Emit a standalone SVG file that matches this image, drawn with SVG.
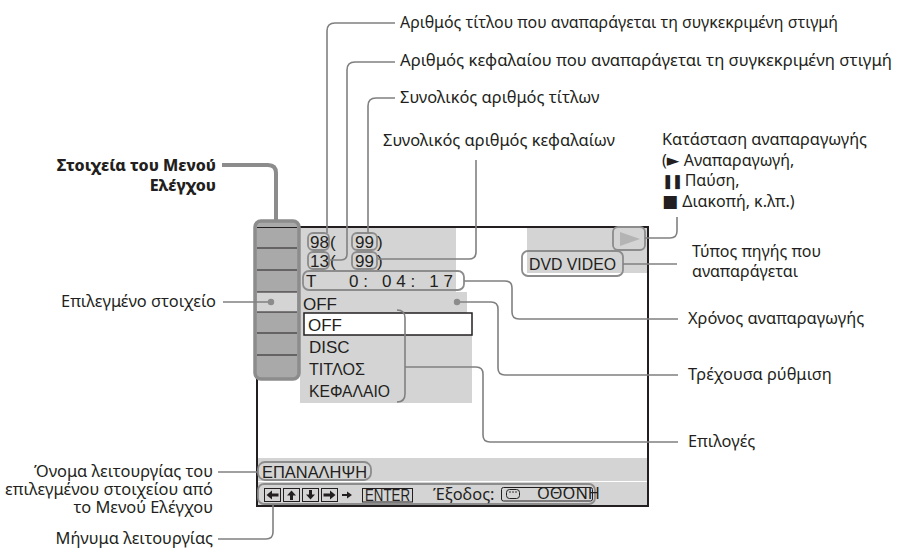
<svg xmlns="http://www.w3.org/2000/svg" width="900" height="552" viewBox="0 0 900 552">
<style>
.lbl{font-family:"Noto Sans","Open Sans",sans-serif;font-size:16.4px;fill:#231f20}
.ml{font-size:16px}
.bold{font-weight:800}
.scr{font-family:"Liberation Sans",Arial,sans-serif;font-size:17px;fill:#231f20}
.con{fill:none;stroke:#808080;stroke-width:1.6}
.thick{fill:none;stroke:#8c8c8c;stroke-width:4}
.rb{fill:none;stroke:#8c8c8c;stroke-width:1.8}
.panel{fill:#d4d4d4}
.key{fill:#d4d4d4;stroke:#231f20;stroke-width:1}
.ink{fill:#231f20}
.sym{font-family:"DejaVu Sans",sans-serif}
</style>
<rect width="900" height="552" fill="#ffffff"/>

<g id="screen">
  <rect class="panel" x="300" y="228" width="156" height="64"/>
  <rect class="panel" x="300" y="292" width="167" height="21"/>
  <rect class="panel" x="300" y="313" width="172" height="90"/>
  <rect class="panel" x="527" y="228" width="120" height="45"/>
  <rect class="panel" x="258" y="458" width="389" height="47"/>
  <line x1="258" y1="481.5" x2="647" y2="481.5" stroke="#ffffff" stroke-width="1.2"/>
  <rect x="257" y="227" width="391" height="279" fill="none" stroke="#231f20" stroke-width="2"/>
</g>

<g id="menu-column">
  <rect x="255" y="221" width="44" height="158" rx="6" fill="#a9a9a9" stroke="#8c8c8c" stroke-width="3.5"/>
  <rect x="257" y="292" width="40" height="20" fill="#d4d4d4"/>
  <g stroke="#231f20" stroke-width="1.2">
    <line x1="257" y1="227.5" x2="297" y2="227.5"/>
    <line x1="257" y1="248" x2="297" y2="248"/>
    <line x1="257" y1="270" x2="297" y2="270"/>
    <line x1="257" y1="292" x2="297" y2="292"/>
    <line x1="257" y1="312" x2="297" y2="312"/>
    <line x1="257" y1="333" x2="297" y2="333"/>
    <line x1="257" y1="355" x2="297" y2="355"/>
  </g>
  <circle cx="271" cy="302" r="3.2" fill="#8c8c8c"/>
</g>

<g id="title-chapter">
  <rect class="rb" x="308" y="233" width="21" height="17" rx="5"/>
  <rect class="rb" x="352" y="233" width="25" height="17" rx="5"/>
  <rect class="rb" x="308" y="252" width="21" height="17" rx="5"/>
  <rect class="rb" x="352" y="252" width="25" height="17" rx="5"/>
  <text class="scr" x="310" y="248">98</text>
  <text class="scr" x="330" y="248">(</text>
  <text class="scr" x="355" y="248">99</text>
  <text class="scr" x="377" y="248">)</text>
  <text class="scr" x="310" y="267">13</text>
  <text class="scr" x="330" y="267">(</text>
  <text class="scr" x="355" y="267">99</text>
  <text class="scr" x="377" y="267">)</text>
</g>

<g id="time">
  <rect class="rb" x="303" y="271" width="161" height="19" rx="6"/>
  <text class="scr" x="306" y="287" font-size="18">T</text>
  <text class="scr" x="349" y="287" font-size="18.5" textLength="104" lengthAdjust="spacing">0: 04: 17</text>
</g>

<g id="setting">
  <text class="scr" x="303" y="310">OFF</text>
  <circle cx="457" cy="302" r="3.2" fill="#8c8c8c"/>
  <rect x="304" y="313" width="168" height="22" fill="#ffffff" stroke="#231f20" stroke-width="1.5"/>
  <text class="scr" x="308" y="331">OFF</text>
  <text class="scr" x="309" y="353">DISC</text>
  <text class="scr" x="309" y="375" textLength="56" lengthAdjust="spacingAndGlyphs">ΤΙΤΛΟΣ</text>
  <text class="scr" x="309" y="397" textLength="81" lengthAdjust="spacingAndGlyphs">ΚΕΦΑΛΑΙΟ</text>
</g>

<g id="status">
  <rect class="rb" x="613" y="227" width="32" height="23" rx="5"/>
  <polygon points="620,232 640,239 620,246" fill="#b4b4b4"/>
  <rect class="rb" x="522" y="251" width="101" height="25" rx="6"/>
  <text class="scr" x="529" y="270" font-size="18" textLength="87" lengthAdjust="spacingAndGlyphs">DVD VIDEO</text>
</g>

<g id="function-bar">
  <rect class="rb" x="258" y="462" width="113" height="18" rx="7"/>
  <text class="scr" x="262" y="478" textLength="105" lengthAdjust="spacingAndGlyphs">ΕΠΑΝΑΛΗΨΗ</text>
  <rect class="rb" x="258" y="484" width="337" height="20" rx="6"/>
  <rect class="key" x="264.5" y="488.5" width="16" height="13"/>
  <rect class="key" x="283.5" y="488.5" width="16" height="13"/>
  <rect class="key" x="302.5" y="488.5" width="16" height="13"/>
  <rect class="key" x="321.5" y="488.5" width="16" height="13"/>
  <g class="ink">
    <polygon points="266.5,495 272,490.5 272,493.5 278.5,493.5 278.5,496.5 272,496.5 272,499.5"/>
    <polygon points="291.5,490.5 296,495.5 293,495.5 293,500 290,500 290,495.5 287,495.5"/>
    <polygon points="310.5,499.5 315,494.5 312,494.5 312,490 309,490 309,494.5 306,494.5"/>
    <polygon points="335.5,495 330,490.5 330,493.5 323.5,493.5 323.5,496.5 330,496.5 330,499.5"/>
    <polygon points="352,495 347,491.5 347,494 342,494 342,496 347,496 347,498.5"/>
  </g>
  <rect x="362.5" y="488.5" width="50" height="13.5" fill="none" stroke="#231f20" stroke-width="1"/>
  <text class="scr" x="365" y="501" font-size="15" textLength="45" lengthAdjust="spacingAndGlyphs">ENTER</text>
  <text class="lbl" x="433" y="500" font-size="17">Έξοδος:</text>
  <rect x="501.5" y="487.5" width="91" height="13.5" rx="2" fill="none" stroke="#231f20" stroke-width="1"/>
  <rect x="506.5" y="489.5" width="13" height="9" rx="3" fill="none" stroke="#231f20" stroke-width="1"/>
  <g class="ink">
    <circle cx="510" cy="492" r="0.8"/><circle cx="513" cy="492" r="0.8"/><circle cx="516" cy="492" r="0.8"/>
  </g>
  <text class="lbl" x="537" y="499" font-size="12">ΟΘΟΝΗ</text>
</g>

<g id="connectors">
  <path class="con" d="M395,23 H335 Q327,23 327,31 V233"/>
  <path class="con" d="M395,62 H355 Q347,62 347,70 V254 Q347,260 341,260 H330"/>
  <path class="con" d="M395,98 H376 Q368,98 368,106 V233"/>
  <path class="con" d="M476,160 V252 Q476,259 469,259 H378"/>
  <path class="con" d="M645,238 H670 Q677,238 677,231 V217"/>
  <path class="con" d="M623,264 H677"/>
  <path class="con" d="M464,281 H505 Q512,281 512,288 V312 Q512,319 519,319 H678"/>
  <path class="con" d="M460,302 H491 Q498,302 498,309 V368 Q498,375 505,375 H678"/>
  <path class="con" d="M397,310 Q405,310 405,318 V394 Q405,402 397,402"/>
  <path class="con" d="M405,367 H476 Q483,367 483,374 V435 Q483,442 490,442 H678"/>
  <path class="thick" d="M222,165 H268 Q276,165 276,173 V221"/>
  <path class="con" d="M223,302 H268"/>
  <path class="con" d="M218,472 H258"/>
  <path class="con" d="M218,539 H266 Q273,539 273,532 V504"/>
</g>

<g id="label-title-no"><text class="lbl" x="400" y="28" textLength="438" lengthAdjust="spacingAndGlyphs">Αριθμός τίτλου που αναπαράγεται τη συγκεκριμένη στιγμή</text></g>
<g id="label-chapter-no"><text class="lbl" x="400" y="66" textLength="492" lengthAdjust="spacingAndGlyphs">Αριθμός κεφαλαίου που αναπαράγεται τη συγκεκριμένη στιγμή</text></g>
<g id="label-total-titles"><text class="lbl" x="400" y="103">Συνολικός αριθμός τίτλων</text></g>
<g id="label-total-chapters"><text class="lbl" x="383" y="146">Συνολικός αριθμός κεφαλαίων</text></g>
<g id="label-play-status">
  <text class="lbl ml" x="662" y="145" textLength="205" lengthAdjust="spacingAndGlyphs">Κατάσταση αναπαραγωγής</text>
  <text class="lbl ml" x="662" y="165.5">(<tspan class="sym" font-size="16.5">►</tspan> Αναπαραγωγή,</text>
  <text class="lbl ml" x="662" y="186"><tspan class="sym" font-size="14" font-weight="bold" letter-spacing="-2">❚❚</tspan><tspan dx="-1"> Παύση,</tspan></text>
  <text class="lbl ml" x="662" y="206.5"><tspan class="sym" font-size="17">■</tspan> Διακοπή, κ.λπ.)</text>
</g>
<g id="label-source">
  <text class="lbl ml" x="692" y="257">Τύπος πηγής που</text>
  <text class="lbl ml" x="692" y="277">αναπαράγεται</text>
</g>
<g id="label-time"><text class="lbl" x="688" y="324">Χρόνος αναπαραγωγής</text></g>
<g id="label-current"><text class="lbl" x="688" y="380">Τρέχουσα ρύθμιση</text></g>
<g id="label-options"><text class="lbl" x="688" y="447">Επιλογές</text></g>
<g id="label-menu-items">
  <text class="lbl ml bold" x="216" y="171" text-anchor="end">Στοιχεία του Μενού</text>
  <text class="lbl ml bold" x="216" y="191" text-anchor="end">Ελέγχου</text>
</g>
<g id="label-selected"><text class="lbl" x="216" y="307" text-anchor="end" font-size="17">Επιλεγμένο στοιχείο</text></g>
<g id="label-function-name">
  <text class="lbl" x="213" y="477" text-anchor="end" font-size="16.8">Όνομα λειτουργίας του</text>
  <text class="lbl" x="213" y="495" text-anchor="end" font-size="16.8">επιλεγμένου στοιχείου από</text>
  <text class="lbl" x="213" y="513" text-anchor="end" font-size="16.8">το Μενού Ελέγχου</text>
</g>
<g id="label-message"><text class="lbl" x="213" y="544" text-anchor="end" font-size="16.8">Μήνυμα λειτουργίας</text></g>
</svg>
